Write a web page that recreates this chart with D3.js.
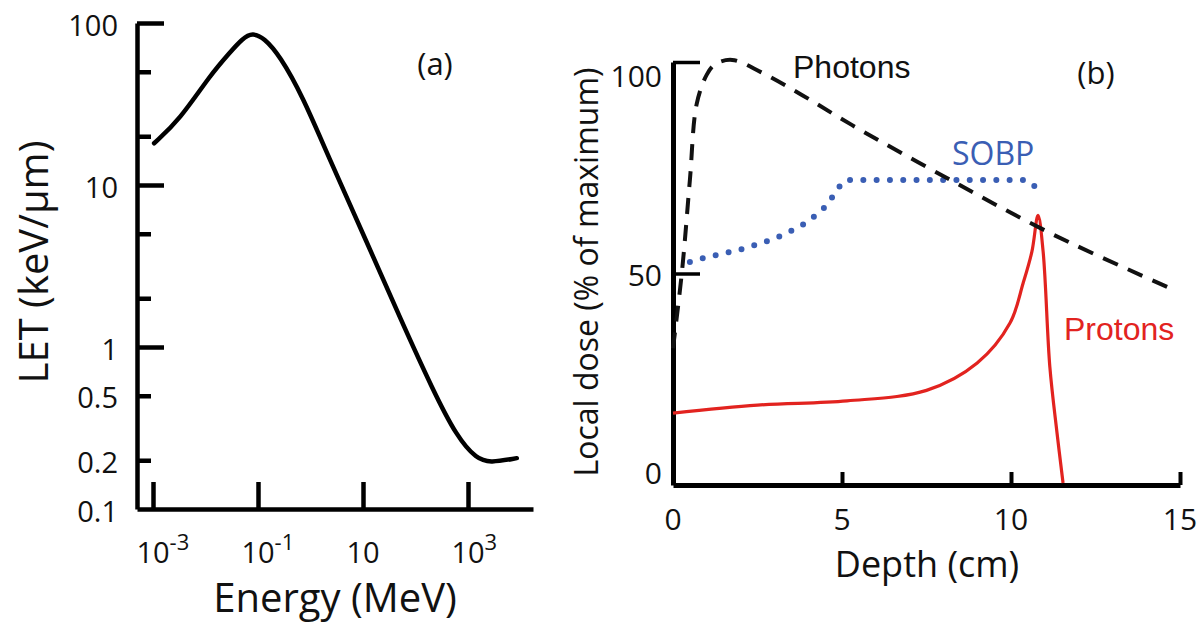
<!DOCTYPE html>
<html>
<head>
<meta charset="utf-8">
<script src="https://cdn.jsdelivr.net/npm/d3@7"></script>
<style>
  body { margin: 0; background: #fff; }
  svg { display: block; }
  .ax-text { font-family: "Open Sans", sans-serif; fill: #111; }
</style>
</head>
<body>
<svg width="1199" height="631"></svg>
<script>

// ---- panel (a): LET vs energy ----
var energy = [1.05e-3, 3.2e-3, 0.0123, 0.0295, 0.05, 0.079, 0.13, 0.26, 0.72, 2.04, 12, 50, 214, 617, 1480, 2630, 8500];
var letValues = [18.1, 25.2, 47.7, 66, 80, 87, 81, 63, 34.9, 15.8, 4.39, 1.53, 0.543, 0.278, 0.203, 0.193, 0.206];
var letMajor = [100, 10, 1];
var letMinor = [50, 20, 5, 2, 0.5, 0.2];
var letLabels = [100, 10, 1, 0.5, 0.2, 0.1];
var energyTicks = [1e-3, 1e-1, 10, 1e3];
var energyTickExp = ["-3", "-1", "", "3"];

// ---- panel (b): depth dose ----
var depthPhotons = [0, 0.27, 0.5, 0.7, 1.0, 1.25, 1.75, 2.6, 3.85, 5.3, 8.2, 11.25, 14.7];
var dosePhotons = [32, 50.6, 72, 90, 97, 99.5, 100.5, 97.6, 92, 85, 72, 59, 46.3];
var depthSOBP = [0.5, 0.71, 2.22, 3.37, 4.05, 4.64, 4.85, 5.15, 6, 8, 10.33, 10.65, 10.8];
var doseSOBP = [52.5, 53, 56, 59.4, 62.5, 67, 69.6, 72, 72, 72, 72, 71, 68];
var depthProtons = [0, 2.5, 5.15, 7.5, 9.0, 9.97, 10.36, 10.62, 10.8, 10.95, 11.15, 11.36, 11.54];
var doseProtons = [16.6, 18.5, 19.5, 22, 28.5, 38, 47.5, 55, 63.6, 55, 27.5, 12, 0];
var doseTicks = [100, 50];
var doseLabels = [100, 50, 0];
var depthTicks = [5, 10, 15];
var depthLabels = [0, 5, 10, 15];

var svg = d3.select("svg");

// ================= panel (a) =================
var ya = d3.scaleLog().domain([0.1, 100]).range([509, 23]);
var xa = d3.scaleLog().domain([1e-3, 1e3]).range([153, 468]);
var xaAxisScale = xa.copy().domain([xa.invert(137), xa.invert(533)]).range([137, 533]);

var ga = svg.append("g");

// y axis, long ticks
ga.append("g")
    .attr("transform", "translate(137,0)")
    .call(d3.axisLeft(ya).tickValues(letMajor).tickSize(-27).tickSizeOuter(0).tickFormat(""))
    .call(function(g) {
      g.select(".domain").attr("stroke-width", 4.5).attr("stroke", "#000");
      g.selectAll(".tick line").attr("stroke-width", 4.5).attr("stroke", "#000");
    });

// y axis, short ticks
ga.append("g")
    .attr("transform", "translate(137,0)")
    .call(d3.axisLeft(ya).tickValues(letMinor).tickSize(-14).tickFormat(""))
    .call(function(g) {
      g.select(".domain").remove();
      g.selectAll(".tick line").attr("stroke-width", 4.5).attr("stroke", "#000");
    });

// y labels
ga.append("g")
    .attr("transform", "translate(137,0)")
    .call(d3.axisLeft(ya).tickValues(letLabels).tickSize(0).tickPadding(19).tickFormat(function(d) { return String(d); }))
    .call(function(g) {
      g.select(".domain").remove();
      g.selectAll(".tick text")
        .attr("class", "ax-text")
        .attr("font-size", 29)
        .attr("dy", "0.42em");
    });

// x axis
ga.append("g")
    .attr("transform", "translate(0,509)")
    .call(d3.axisBottom(xaAxisScale).tickValues(energyTicks).tickSize(-27).tickSizeOuter(0).tickFormat(""))
    .call(function(g) {
      g.select(".domain").attr("stroke-width", 4.5).attr("stroke", "#000");
      g.selectAll(".tick line").attr("stroke-width", 4.5).attr("stroke", "#000");
    });

// x labels with superscripts
energyTicks.forEach(function(v, i) {
  var t = ga.append("text")
      .attr("class", "ax-text")
      .attr("font-size", 29)
      .attr("y", 563);
  var base = t.append("tspan").text("10");
  var w = base.node().getComputedTextLength();
  t.attr("x", xa(v) - w / 2);
  if (energyTickExp[i]) {
    t.append("tspan")
      .attr("font-size", 22)
      .attr("dy", -13)
      .text(energyTickExp[i]);
  }
});

var lineA = d3.line()
    .x(function(d) { return xa(d[0]); })
    .y(function(d) { return ya(d[1]); })
    .curve(d3.curveBasis);

ga.append("path")
    .datum(d3.zip(energy, letValues))
    .attr("d", lineA)
    .attr("fill", "none")
    .attr("stroke", "#000")
    .attr("stroke-width", 4.5)
    .attr("stroke-linecap", "round");

ga.append("text")
    .attr("class", "ax-text")
    .attr("font-size", 31)
    .attr("x", 435)
    .attr("y", 75)
    .attr("text-anchor", "middle")
    .text("(a)");

ga.append("text")
    .attr("class", "ax-text")
    .attr("font-size", 40)
    .attr("text-anchor", "middle")
    .attr("x", 335)
    .attr("y", 612)
    .text("Energy (MeV)");

ga.append("text")
    .attr("class", "ax-text")
    .attr("font-size", 40)
    .attr("text-anchor", "middle")
    .attr("transform", "translate(48,262) rotate(-90)")
    .text("LET (keV/\u03bcm)");

// ================= panel (b) =================
var xb = d3.scaleLinear().domain([0, 15]).range([673, 1180]);
var yb = d3.scaleLinear().domain([0, 100]).range([483, 62]);

var gb = svg.append("g");

gb.append("g")
    .attr("transform", "translate(673,0)")
    .call(d3.axisLeft(yb.copy().range([485, 62])).tickValues(doseTicks).tickSize(-27).tickSizeOuter(0).tickFormat(""))
    .call(function(g) {
      g.select(".domain").attr("stroke-width", 5).attr("stroke", "#000");
      g.selectAll(".tick line").attr("stroke-width", 3.5).attr("stroke", "#000");
    });

gb.append("g")
    .attr("transform", "translate(0,485)")
    .call(d3.axisBottom(xb).tickValues(depthTicks).tickSize(-13).tickSizeOuter(0).tickFormat(""))
    .call(function(g) {
      g.select(".domain").attr("stroke-width", 5).attr("stroke", "#000");
      g.selectAll(".tick line").attr("stroke-width", 4).attr("stroke", "#000");
    });

var labelShift = {100: 14, 50: 3, 0: -10};
gb.selectAll(".ylab")
  .data(doseLabels)
  .enter().append("text")
    .attr("class", "ax-text")
    .attr("font-size", 30)
    .attr("text-anchor", "end")
    .attr("x", 662)
    .attr("y", function(d) { return yb(d) + labelShift[d]; })
    .attr("dy", "0.36em")
    .text(function(d) { return d; });

gb.selectAll(".xlab")
  .data(depthLabels)
  .enter().append("text")
    .attr("class", "ax-text")
    .attr("font-size", 30)
    .attr("text-anchor", "middle")
    .attr("x", function(d) { return xb(d); })
    .attr("y", 530)
    .text(function(d) { return d; });

var lineB = d3.line()
    .x(function(d) { return xb(d[0]); })
    .y(function(d) { return yb(d[1]); });

gb.append("path")
    .datum(d3.zip(depthProtons, doseProtons))
    .attr("d", lineB.curve(d3.curveCatmullRom.alpha(0.5)))
    .attr("fill", "none")
    .attr("stroke", "#e2231f")
    .attr("stroke-width", 3.2);

gb.append("path")
    .datum(d3.zip(depthSOBP, doseSOBP))
    .attr("d", lineB.curve(d3.curveMonotoneX))
    .attr("fill", "none")
    .attr("stroke", "#3a5eb4")
    .attr("stroke-width", 6)
    .attr("stroke-linecap", "round")
    .attr("stroke-dasharray", "0,13.3");

gb.append("path")
    .datum(d3.zip(depthPhotons, dosePhotons))
    .attr("d", lineB.curve(d3.curveCatmullRom.alpha(0.5)))
    .attr("fill", "none")
    .attr("stroke", "#111")
    .attr("stroke-width", 4)
    .attr("stroke-dasharray", "16,11");

gb.append("text")
    .attr("font-family", "'Liberation Sans', Arial, sans-serif")
    .attr("font-size", 32)
    .attr("fill", "#111")
    .attr("x", 793)
    .attr("y", 78)
    .text("Photons");

gb.append("text")
    .attr("font-family", "'Open Sans', sans-serif")
    .attr("font-size", 32)
    .attr("fill", "#3a5eb4")
    .attr("x", 952)
    .attr("y", 165)
    .text("SOBP");

gb.append("text")
    .attr("font-family", "'Liberation Sans', Arial, sans-serif")
    .attr("font-size", 32)
    .attr("fill", "#e2231f")
    .attr("x", 1064)
    .attr("y", 340)
    .text("Protons");

gb.append("text")
    .attr("class", "ax-text")
    .attr("font-size", 31)
    .attr("x", 1096)
    .attr("y", 84)
    .attr("text-anchor", "middle")
    .text("(b)");

gb.append("text")
    .attr("class", "ax-text")
    .attr("font-size", 36)
    .attr("text-anchor", "middle")
    .attr("x", 927)
    .attr("y", 577)
    .text("Depth (cm)");

gb.append("text")
    .attr("class", "ax-text")
    .attr("font-size", 32)
    .attr("text-anchor", "middle")
    .attr("transform", "translate(598,272) rotate(-90)")
    .text("Local dose (% of maximum)");

</script>
</body>
</html>
